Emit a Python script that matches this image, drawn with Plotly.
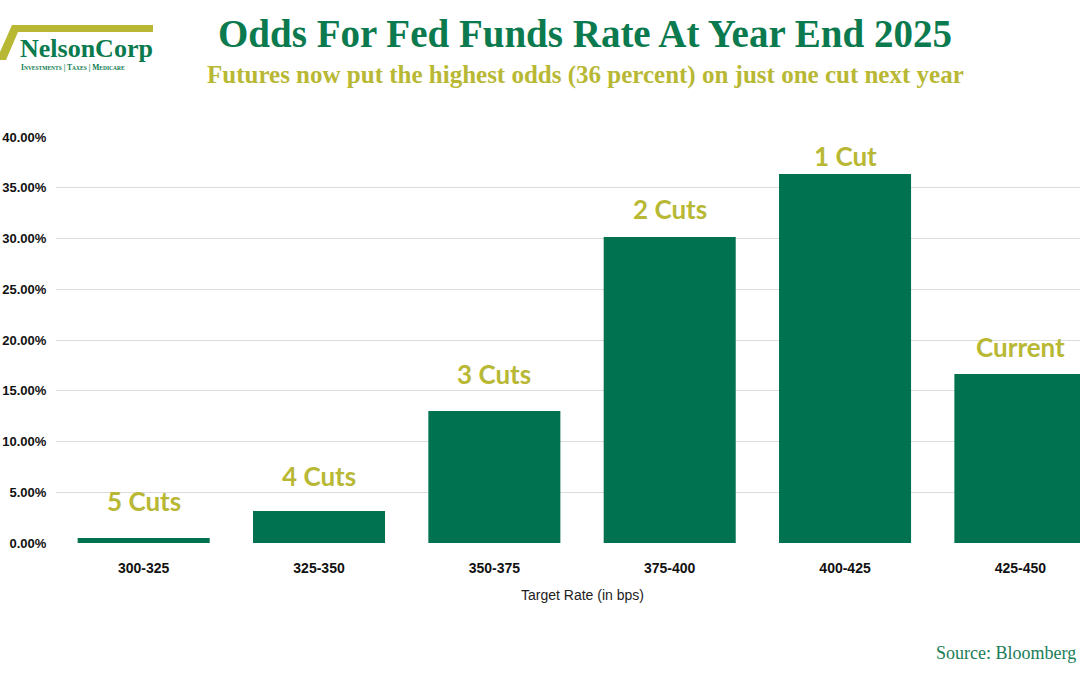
import plotly.graph_objects as go

categories = ["300-325", "325-350", "350-375", "375-400", "400-425", "425-450"]
odds = [0.5, 3.15, 13.0, 30.15, 36.35, 16.65]
bar_labels = ["5 Cuts", "4 Cuts", "3 Cuts", "2 Cuts", "1 Cut", "Current"]
y_ticks = [0, 5, 10, 15, 20, 25, 30, 35, 40]
y_tick_text = [f"{v:.2f}%" for v in y_ticks]

W, H = 1080, 675
L, R, T, B = 56, 0, 137, 132
PW, PH = W - L - R, H - T - B

def px(x):
    return (x - L) / PW

def py(y):
    return (H - B - y) / PH

GREEN = "#00724f"
OLIVE = "#b8b834"

# label placement style: extra lift (px) above each bar, as positioned in the source chart
label_lift = [19, 17, 19, 10, 0, 9]

fig = go.Figure()
fig.add_trace(go.Bar(
    x=list(range(len(categories))), y=odds,
    marker=dict(color=GREEN, line=dict(width=0)),
    hoverinfo="skip",
))

annotations = []
for i, (v, t) in enumerate(zip(odds, bar_labels)):
    annotations.append(dict(
        x=i, y=v, xref="x", yref="y", text=t, showarrow=False,
        yanchor="bottom", yshift=label_lift[i],
        font=dict(family="Lato", size=26, color=OLIVE, weight="bold"),
    ))

annotations += [
    dict(x=px(585), y=py(33), xref="paper", yref="paper",
         text="<b>Odds For Fed Funds Rate At Year End 2025</b>", showarrow=False,
         xanchor="center", yanchor="middle",
         font=dict(family="Liberation Serif", size=39, color="#0b7a4e")),
    dict(x=px(585), y=py(75), xref="paper", yref="paper",
         text="<b>Futures now put the highest odds (36 percent) on just one cut next year</b>",
         showarrow=False, xanchor="center", yanchor="middle",
         font=dict(family="Liberation Serif", size=25, color=OLIVE)),
    dict(x=px(582), y=py(595), xref="paper", yref="paper",
         text="Target Rate (in bps)", showarrow=False,
         xanchor="center", yanchor="middle",
         font=dict(family="Liberation Sans", size=14, color="#222222")),
    dict(x=px(934), y=py(653), xref="paper", yref="paper",
         text="Source: Bloomberg", showarrow=False,
         xanchor="left", yanchor="middle",
         font=dict(family="Liberation Serif", size=18, color="#1a7d57")),
    # logo text
    dict(x=px(18), y=py(48), xref="paper", yref="paper",
         text="<b>NelsonCorp</b>", showarrow=False,
         xanchor="left", yanchor="middle",
         font=dict(family="Liberation Serif", size=26, color="#0b7a4e")),
    dict(x=px(19), y=py(68), xref="paper", yref="paper",
         text="<b>I<span style='font-size:5.5px'>NVESTMENTS</span> | T<span style='font-size:5.5px'>AXES</span> | M<span style='font-size:5.5px'>EDICARE</span></b>",
         showarrow=False, xanchor="left", yanchor="middle",
         font=dict(family="Liberation Serif", size=7.5, color="#0b7a4e")),
]

shapes = [
    dict(type="path", xref="paper", yref="paper", layer="above",
         path=(f"M {px(0)},{py(60)} L {px(6)},{py(60)} L {px(18)},{py(32)} "
               f"L {px(153)},{py(32)} L {px(153)},{py(25)} L {px(12)},{py(25)} "
               f"L {px(0)},{py(52)} Z"),
         fillcolor=OLIVE, line=dict(width=0)),
]

fig.update_layout(
    width=W, height=H,
    margin=dict(l=L, r=R, t=T, b=B, autoexpand=False),
    paper_bgcolor="white", plot_bgcolor="white",
    showlegend=False,
    bargap=0.247,
    annotations=annotations,
    shapes=shapes,
    xaxis=dict(
        range=[-0.5, 5.34],
        tickmode="array", tickvals=list(range(len(categories))), ticktext=categories,
        tickfont=dict(family="Liberation Sans", size=14, color="#111111", weight="bold"),
        ticks="outside", ticklen=12, tickcolor="rgba(0,0,0,0)",
        showgrid=False, zeroline=False, showline=False, automargin=False,
    ),
    yaxis=dict(
        range=[0, 40],
        tickmode="array", tickvals=y_ticks, ticktext=y_tick_text,
        tickfont=dict(family="Liberation Sans", size=13, color="#111111", weight="bold"),
        ticks="outside", ticklen=6, tickcolor="rgba(0,0,0,0)",
        showgrid=True, gridcolor="#dcdcdc", gridwidth=1,
        zeroline=False, showline=False, automargin=False,
    ),
)

fig.write_html("out.html", config={"displayModeBar": False},
               post_script="document.body.style.margin='0';")
